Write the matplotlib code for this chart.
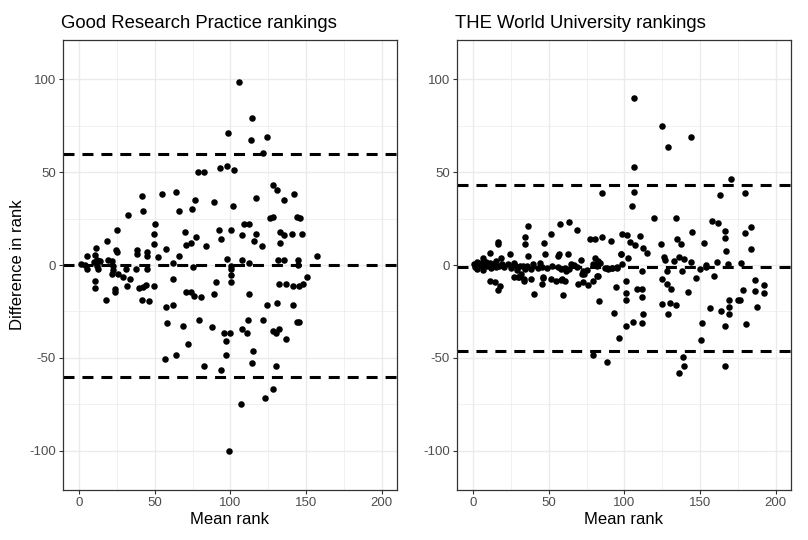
import matplotlib
matplotlib.use("Agg")
import matplotlib.pyplot as plt
from matplotlib.ticker import MultipleLocator

plt.rcParams['font.family'] = ['Liberation Sans', 'DejaVu Sans']
plt.rcParams['axes.unicode_minus'] = False

titles = ["Good Research Practice rankings", "THE World University rankings"]

# Left panel: (mean rank, difference in rank)
grp_mean = [98.1, 78.8, 82.7, 92.9, 97.5, 41.4, 54.8, 64.2, 76.4, 88.9, 32.3, 42.2, 66.2, 74.8, 25.3, 50, 49.3, 18.3,
            11.2, 49.3, 69.8, 77.2, 73.7, 70.6, 57.4, 83.8, 92.4, 94, 97.5, 38.1, 38.1, 45.1, 45.1, 24.2, 25.3, 52,
            66.4, 62.2, 75.4, 18.9, 21.6, 5.3, 10.4, 12.1, 10.1, 14, 1.1, 4, 5.1, 11.7, 12.7,
            22.6, 22.6, 22, 26, 30.8, 28.8, 33.7, 38, 45, 62.2, 10.6, 10.6, 17.6, 23.8, 23.8, 31.5, 39.8, 42, 44.2,
            41.8, 46.4, 49.5, 57.8, 62.2, 70.6, 73.9, 76.1, 80.5, 90.4, 89.1, 100.5, 100.5, 100.5, 100.5,
            58.3, 68.9, 79.4, 87.6, 95.6, 96.9, 99.7, 71.8, 57, 63.8, 97, 82.7, 93.9, 99.2,
            106, 114.4, 113.5, 124.5, 121.7, 102.5, 128.2, 131.1, 116.8, 135.5, 141.9, 101.9, 125.9, 128.1, 143.9,
            145.7, 109, 112.2, 100.3, 107.8, 116.6, 132.7, 135.5, 140.6, 147.4, 115.5, 121, 132.9, 157.3, 107.6,
            112.4, 131.4, 135.5, 144.6, 144.8, 150.9,
            112.4, 131.8, 137, 141.4, 145.4, 148, 124.5, 130.9, 141.4, 111.6, 121.4, 144.1, 145.2, 108, 110.7,
            128.3, 129.9, 132.1, 136.4, 114.9, 114, 130, 128.1, 122.6, 106.7]
grp_diff = [71.1, 50.2, 50.2, 52.2, 53, 37.1, 38.2, 39, 35.1, 34, 27, 28.8, 28.8, 29.9, 19, 21.8, 16.8, 12.9,
            8.9, 11.1, 17.9, 15, 12, 10.9, 8.8, 10, 19, 13.8, 3, 8.1, 5.9, 7, 5, 8.1, 7, 4.1,
            5, 1.1, -1.1, 2.8, 2.1, 5, 5.4, 2.8, 1.8, 2.1, 0.3, 0, -2.2, -0.4, -2.2,
            -0.7, -2.5, -4.8, -4.8, -2.2, -6.7, -7.5, -2.2, -2.2, -7.5, -8.4, -12.4, -18.7, -12.9, -14.7, -11.3,
            -12.4, -11.7, -10.6, -18.7, -19.6, -11.1, -22.4, -21.3, -14.4, -14.4, -16.5, -17.4, -9.4, -15.6,
            -0.3, -2.2, -5.2, -9.4,
            -31.4, -32.6, -29.4, -33.5, -36.4, -40.7, -36.4, -42.7, -50.5, -48.6, -48.6, -54.5, -56.5, -100,
            98.4, 79.2, 67.2, 69, 60.2, 51.2, 43.2, 40.3, 36.2, 35.1, 38, 31.9, 25.1, 26, 26,
            25.1, 21.8, 21.8, 19, 15.9, 16.8, 17.9, 15.9, 16.8, 16.8, 12.9, 10, 12, 4.8, 2.8,
            1.1, 2.8, 2.8, 2.8, 0, -6.3,
            -15.4, -10.4, -10.4, -11.3, -11.3, -10.4, -21.3, -20.4, -21.3, -29.4, -29.4, -30.5, -30.5, -34.6, -36.4,
            -35.5, -36.4, -34.6, -39.6, -46.4, -52.5, -54.5, -66.7, -71.7, -74.7]
grp_lines = [59.9, -0.2, -60.2]

# Right panel
the_mean = [84.9, 36.6, 57.5, 63.2, 68.4, 51.6, 34.2, 34.5, 16.4, 16.4, 46.7, 77.4, 80.3, 85.3, 91.3, 98.3,
            11.2, 6.4, 15.1, 18.7, 13.8, 19.3, 24.8, 36.6, 47.8, 55.9, 57, 63, 71.3, 80.9, 82.7, 83.8, 97.6, 98.7,
            27.4, 28.8, 32.9, 34.7, 38.4, 44.5, 45.4, 55.9, 61.4, 63.6, 66.9, 73, 72, 88.8, 91.5, 95.4, 82.2,
            27.4, 30.7, 33.6, 38.4, 46, 51.6, 58.8,
            11, 14.7, 16.4, 18.2, 29.6, 31.8, 34, 40.6, 45.4, 46.5, 54.9, 58.2, 61, 59.7,
            69.1, 72.4, 73.5, 76.3, 79.6, 82.9, 83.4, 93.2, 96.3, 94.7, 100.9, 100.9, 100.9, 100.9, 79.6, 88.4,
            106.2, 125, 128.9, 144.3, 106.2, 170.4, 106.6, 105.1, 163, 179.6, 119.5, 134.2, 157.7, 162.1, 144.5,
            166.2, 166.6, 183.6, 179.6, 102, 110.5, 103.8, 107, 112.5, 115.1, 123.9, 134.5, 137.1, 152.6, 167.1,
            183.8, 98, 102.4, 95.4, 126.1, 126.8, 132.7, 135.8, 139.3, 143.7, 153.6, 154.2, 149.8, 161.2, 168.4,
            177, 111.6, 128.3, 138.2,
            147.6, 159, 108.2, 111.8, 111.8, 125, 128.3, 130.9, 124.6, 129.9, 133.8, 129, 141.7, 112.5, 105.5,
            111.6, 151.1, 150.7, 156.8, 163.8, 166.1, 168.9, 168.9, 169.3, 174.8, 176.6, 178.3, 180.1, 186.4,
            186.4, 192.4, 192.4, 187.8, 138.6, 139.3, 136, 166.4,
            0.5, 1.5, 2.5, 3, 4, 5.5, 6.5, 7.5, 8.5, 9.5, 11, 12, 14, 15.5, 17, 19, 20.5, 23, 25, 27, 29, 31,
            36, 40, 43, 49, 52, 58, 61, 65, 69, 75, 79, 82, 87, 89, 92]
the_diff = [38.5, 21, 22, 22.9, 19, 16.8, 15, 11.3, 12.5, 11.5, 12, 14, 14, 15, 12.9, 16.5,
            6.2, 3.8, 2.3, 3.5, 0.5, 0.2, 5.9, 4.8, 5.9, 4.8, 5.9, 5.9, 2.8, 3.8, 1.9, 1.2, 5.9, 0.5,
            1.2, -1.3, -0.4, -2.2, -2.2, 0.9, -1.3, -0.9, -3.1, -2.2, 0.2, -3.4, -4.8, -1.5, -1.6, -1.5, -5.8,
            -6.2, -6.5, -7.3, -7.3, -6.8, -7.3, -7.3,
            -8.4, -9.4, -13.4, -11.1, -6.3, -4.8, -8.4, -15.6, -10.2, -6.3, -8.4, -8.1, -8.4, -16,
            -10.2, -9.4, -4.8, -11, -8.4, -5.8, -19.6, -26, -39.5, -12, -8.4, -15.3, -18.8, -32.6, -48.6, -52.2,
            89.8, 74.7, 63.6, 68.6, 52.5, 46, 39, 31.5, 37.6, 38.5, 25.4, 25.4, 23.8, 22.6, 17.9,
            18.4, 14.5, 20.6, 17.4, 15.9, 15.6, 12.5, 10.5, 8.9, 6.2, 11.5, 14, 11.5, 12, 7.5,
            8.4, 5.9, 3.9, -1.3, 4.5, 2.7, 2.3, 4.5, 3.4, 1.4, 0.2, -0.9, -2.4, 1.8, 0.5,
            1.2, -3.4, -3.4, -3.4,
            -7, -5.8, -12.9, -12.9, -17.4, -7.5, -10.2, -12.9, -21, -20.4, -21.3, -26.3, -14.4, -26.3, -30.9,
            -31.4, -31, -40.5, -23.1, -24.9, -33, -18.7, -22.4, -26.3, -18.7, -18.8, -13.4, -31.9, -7.9,
            -14, -10.8, -15.1, -22.4, -49.7, -54.5, -58.3, -54.1,
            0.5, -1, 1.5, -2, 0, 1, -2.5, 0, 1.5, -0.5, 1, -1.5, 0.5, -1, -0.5, 0.8, -1.2, 0.3, -1.8, 0.8, -2.5, -0.5,
            -0.8, 0.5, -1.5, -1.8, -0.7, -2.4, -1.5, 0.3, -1, -2.8, 0.8, -0.3, -1.8, -1.9, -1.6]
the_lines = [43.2, -1.3, -46.0]

xticks = [0, 50, 100, 150, 200]
yticks = [-100, -50, 0, 50, 100]

W, H = 808, 540
fig = plt.figure(figsize=(W / 100, H / 100), dpi=100)
ax1 = fig.add_axes([63 / W, 1 - 490 / H, 334 / W, 450 / H])
ax2 = fig.add_axes([457 / W, 1 - 490 / H, 334 / W, 450 / H])

panels = [(ax1, grp_mean, grp_diff, grp_lines, titles[0]),
          (ax2, the_mean, the_diff, the_lines, titles[1])]

for ax, xs, ys, lines, title in panels:
    ax.set_xlim(-10.5, 210)
    ax.set_ylim(-121, 121)
    ax.set_xticks(xticks)
    ax.set_yticks(yticks)
    ax.xaxis.set_minor_locator(MultipleLocator(25))
    ax.yaxis.set_minor_locator(MultipleLocator(25))
    ax.grid(which='major', color='#EBEBEB', linewidth=1.0, zorder=0)
    ax.grid(which='minor', color='#EBEBEB', linewidth=0.5, zorder=0)
    ax.set_axisbelow(True)
    for s in ax.spines.values():
        s.set_color('#333333')
        s.set_linewidth(0.9)
    ax.tick_params(which='major', length=3, width=0.8, color='#333333',
                   labelcolor='#4D4D4D', labelsize=9.5, pad=2)
    ax.tick_params(which='minor', length=0)
    ax.scatter(xs, ys, s=22, color='black', linewidths=0, zorder=3)
    for v in lines:
        ax.axhline(v, color='black', linewidth=2.2, linestyle=(0, (3.6, 2.6)), zorder=2)
    ax.set_xlabel('Mean rank', fontsize=12, labelpad=2, color='black')
    ax.set_title(title, fontsize=13.3, loc='left', pad=9, color='black', x=-0.005)

ax1.set_ylabel('Difference in rank', fontsize=12, labelpad=3, color='black')

fig.savefig('out.png', dpi=100, facecolor='white')
